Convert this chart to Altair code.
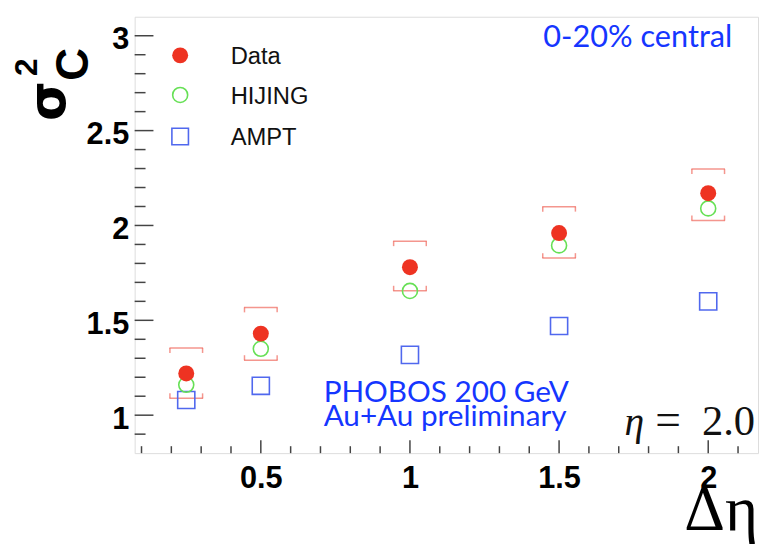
import altair as alt
import pandas as pd

# ---- data ----
deta = [0.25, 0.5, 1.0, 1.5, 2.0]
data_vals = [1.22, 1.43, 1.78, 1.96, 2.17]
hijing_vals = [1.16, 1.35, 1.655, 1.895, 2.09]
ampt_vals = [1.08, 1.155, 1.318, 1.47, 1.60]
sys_hi = [1.354, 1.568, 1.917, 2.099, 2.297]
sys_lo = [1.089, 1.290, 1.656, 1.828, 2.026]

series_names = ["Data", "HIJING", "AMPT"]
x_major = [0.5, 1.0, 1.5, 2.0]
x_minor = [0.1, 0.2, 0.3, 0.4, 0.6, 0.7, 0.8, 0.9, 1.1, 1.2, 1.3, 1.4,
           1.6, 1.7, 1.8, 1.9, 2.1]
y_major = [1.0, 1.5, 2.0, 2.5, 3.0]
y_minor = [0.9, 1.1, 1.2, 1.3, 1.4, 1.6, 1.7, 1.8, 1.9, 2.1, 2.2, 2.3, 2.4,
           2.6, 2.7, 2.8, 2.9]

W, H = 630, 441
RED = "#ee3322"
GREEN = "#66e055"
BLUE = "#5068ee"
SYS = "#f06a5e"
ANN = "#1536ff"
TICK = "#444444"

df = pd.DataFrame({"deta": deta, "data": data_vals, "hijing": hijing_vals,
                   "ampt": ampt_vals, "hi": sys_hi, "lo": sys_lo})

xscale = alt.Scale(domain=[0.077, 2.167], zero=False, nice=False)
yscale = alt.Scale(domain=[0.8, 3.1], zero=False, nice=False)

xaxis = alt.Axis(values=x_major, format="~g", ticks=False, domain=False, grid=False,
                 labelFont="Liberation Sans", labelFontWeight="bold", labelFontSize=31,
                 labelColor="black", labelPadding=11, title=None)
yaxis = alt.Axis(values=y_major, format="~g", ticks=False, domain=False, grid=False,
                 labelFont="Liberation Sans", labelFontWeight="bold", labelFontSize=31,
                 labelColor="black", labelPadding=6, labelOffset=4, title=None)

def Xf(field):
    return alt.X(f"{field}:Q", scale=xscale, axis=xaxis)

def Yf(field):
    return alt.Y(f"{field}:Q", scale=yscale, axis=yaxis)

base = alt.Chart(df)

# axis carrier (invisible)
carrier = base.mark_point(opacity=0).encode(x=Xf("deta"), y=Yf("data"))

# systematic brackets
top_bar = base.mark_tick(orient="horizontal", size=34, thickness=1.5, color=SYS).encode(x=Xf("deta"), y=Yf("hi"))
bot_bar = base.mark_tick(orient="horizontal", size=34, thickness=1.5, color=SYS).encode(x=Xf("deta"), y=Yf("lo"))
serifs = []
for xo in (-16.5, 16.5):
    serifs.append(base.mark_tick(orient="vertical", size=5, thickness=1.5, color=SYS,
                                 xOffset=xo, yOffset=2.5).encode(x=Xf("deta"), y=Yf("hi")))
    serifs.append(base.mark_tick(orient="vertical", size=5, thickness=1.5, color=SYS,
                                 xOffset=xo, yOffset=-2.5).encode(x=Xf("deta"), y=Yf("lo")))

ampt_pts = base.mark_point(shape="square", size=300, filled=False, stroke=BLUE,
                           strokeWidth=1.6, opacity=1).encode(x=Xf("deta"), y=Yf("ampt"))
hij_pts = base.mark_point(shape="circle", size=230, filled=False, stroke=GREEN,
                          strokeWidth=1.6, opacity=1).encode(x=Xf("deta"), y=Yf("hijing"))
data_pts = base.mark_point(shape="circle", size=260, filled=True, fill=RED,
                           opacity=1, strokeWidth=0).encode(x=Xf("deta"), y=Yf("data"))

# ROOT-style inward ticks
ymaj = alt.Chart(pd.DataFrame({"v": y_major})).mark_rule(color=TICK, strokeWidth=1.5).encode(
    y=Yf("v"), x=alt.value(0), x2=alt.value(19))
ymin = alt.Chart(pd.DataFrame({"v": y_minor})).mark_rule(color=TICK, strokeWidth=1.5).encode(
    y=Yf("v"), x=alt.value(0), x2=alt.value(11))
xmaj = alt.Chart(pd.DataFrame({"v": x_major})).mark_rule(color=TICK, strokeWidth=1.5).encode(
    x=Xf("v"), y=alt.value(H), y2=alt.value(H - 13))
xmin = alt.Chart(pd.DataFrame({"v": x_minor})).mark_rule(color=TICK, strokeWidth=1.5).encode(
    x=Xf("v"), y=alt.value(H), y2=alt.value(H - 7))

# legend
leg_y = [39, 79, 121]
one = pd.DataFrame({"a": [0]})
leg_data = alt.Chart(one).mark_point(shape="circle", size=260, filled=True,
    fill=RED, strokeWidth=0, opacity=1).encode(x=alt.value(46), y=alt.value(leg_y[0]))
leg_hij = alt.Chart(one).mark_point(shape="circle", size=230, filled=False,
    stroke=GREEN, strokeWidth=1.6, opacity=1).encode(x=alt.value(46), y=alt.value(leg_y[1]))
leg_ampt = alt.Chart(one).mark_point(shape="square", size=280, filled=False,
    stroke=BLUE, strokeWidth=1.6, opacity=1).encode(x=alt.value(46), y=alt.value(leg_y[2]))
leg_text = []
for name, yy in zip(series_names, leg_y):
    leg_text.append(alt.Chart(pd.DataFrame({"t": [name]})).mark_text(
        font="Liberation Sans", fontSize=24, align="left", baseline="middle", color="#111")
        .encode(x=alt.value(97), y=alt.value(yy + 2), text="t:N"))

def label(txt, x, y, **kw):
    return alt.Chart(pd.DataFrame({"t": [txt]})).mark_text(**kw).encode(
        x=alt.value(x), y=alt.value(y), text="t:N")

texts = [
    label("0-20% central", 604, 31, font="Lato", fontSize=31, align="right",
          baseline="alphabetic", color=ANN),
    label("PHOBOS 200 GeV", 191, 389, font="Lato", fontSize=30, align="left",
          baseline="alphabetic", color=ANN),
    label("Au+Au preliminary", 191, 414, font="Lato", fontSize=30, align="left",
          baseline="alphabetic", color=ANN),
    label("η", 505, 423, font="Liberation Serif", fontSize=40, align="center",
          baseline="alphabetic", color="#111", fontStyle="italic"),
    label("=", 539, 423, font="Liberation Serif", fontSize=46, align="center",
          baseline="alphabetic", color="#111"),
    label("2.0", 627, 423, font="Liberation Serif", fontSize=43, align="right",
          baseline="alphabetic", color="#111"),
    label("Δη", 630, 519, font="Liberation Serif", fontSize=64, align="right",
          baseline="alphabetic", color="black"),
    label("σ", -86, 85, font="DejaVu Sans", fontSize=52, fontWeight="bold", angle=270,
          align="center", baseline="middle", color="black"),
    label("2", -109, 51, font="Liberation Sans", fontSize=32, fontWeight="bold", angle=270,
          align="center", baseline="middle", color="black"),
    label("C", -61, 48, font="Liberation Sans", fontSize=46, fontWeight="bold", angle=270,
          align="center", baseline="middle", color="black"),
]

chart = alt.layer(
    carrier, ymin, ymaj, xmin, xmaj, top_bar, bot_bar, *serifs,
    ampt_pts, hij_pts, data_pts,
    leg_data, leg_hij, leg_ampt, *leg_text, *texts,
).properties(
    width=W, height=H,
    autosize=alt.AutoSizeParams(type="none"),
    padding={"left": 128, "top": 6, "right": 2, "bottom": 91},
).configure_view(stroke="#444444", strokeWidth=2).configure(background="white")

chart.save("out.html", embed_options={"renderer": "svg", "actions": False})
